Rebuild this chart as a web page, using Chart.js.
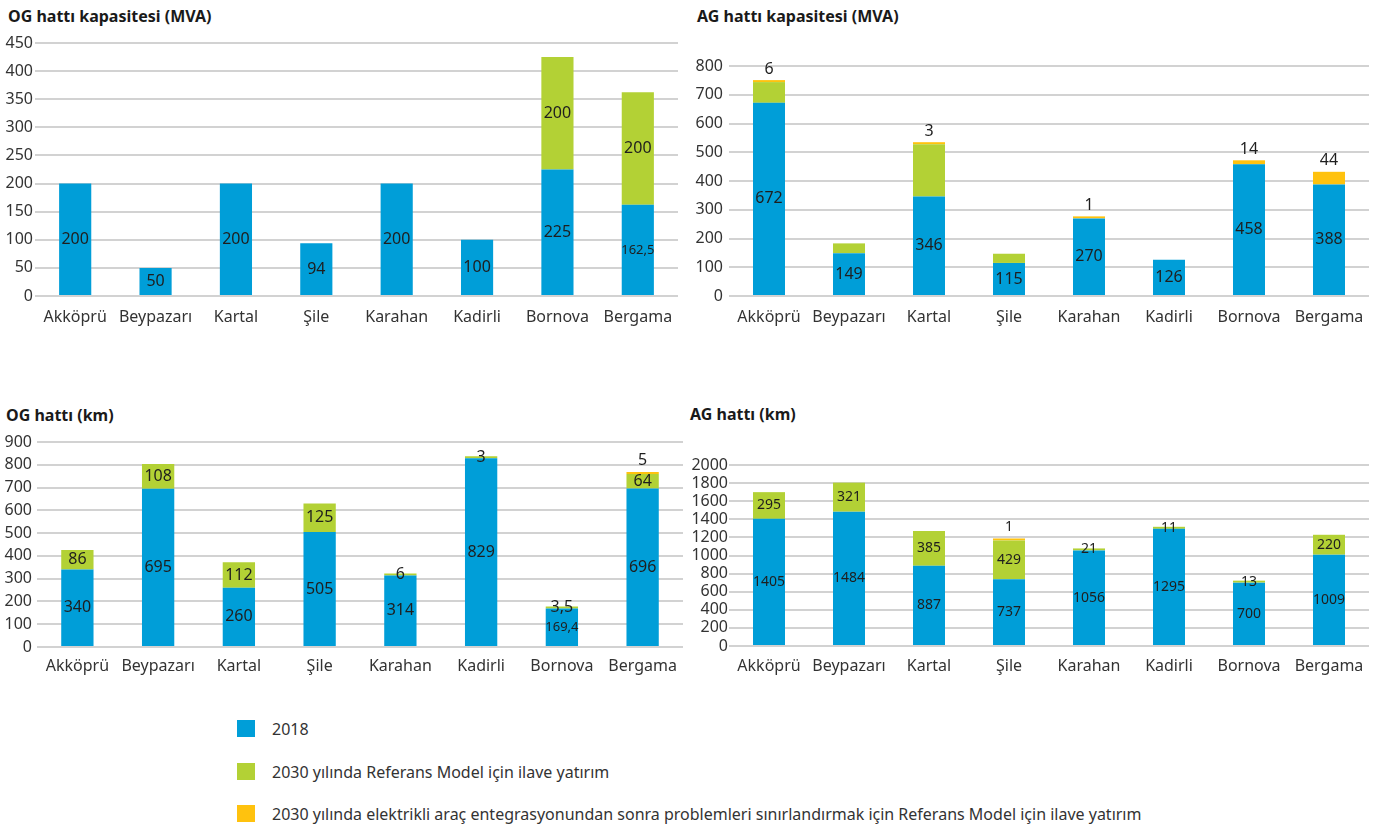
<!DOCTYPE html>
<html><head><meta charset="utf-8">
<script src="https://cdn.jsdelivr.net/npm/chart.js@4/dist/chart.umd.min.js"></script>
<style>
body{margin:0;background:#fff;width:1381px;height:829px;position:relative;overflow:hidden;font-family:"Noto Sans",sans-serif;}
canvas{position:absolute;}
.title{position:absolute;font-weight:bold;font-size:16px;color:#1a1a1a;line-height:20px;white-space:nowrap;}
.sw{position:absolute;left:237px;width:18px;height:17px;}
.lt{position:absolute;left:272px;font-size:16px;color:#333;line-height:20px;white-space:nowrap;}
</style></head>
<body>
<div class="title" style="left:8px;top:6px">OG hattı kapasitesi (MVA)</div>
<div class="title" style="left:697px;top:6px">AG hattı kapasitesi (MVA)</div>
<div class="title" style="left:6px;top:405px">OG hattı (km)</div>
<div class="title" style="left:690px;top:404px">AG hattı (km)</div>
<canvas id="c1" width="685" height="300" style="left:0;top:30px"></canvas>
<canvas id="c2" width="691" height="300" style="left:690px;top:30px"></canvas>
<canvas id="c3" width="690" height="256" style="left:0;top:425px"></canvas>
<canvas id="c4" width="691" height="256" style="left:690px;top:425px"></canvas>
<div id="legend"></div>
<script>
// ---- data ----
const categories = ['Akköprü','Beypazarı','Kartal','Şile','Karahan','Kadirli','Bornova','Bergama'];
const seriesNames = ['2018','2030 yılında Referans Model için ilave yatırım','2030 yılında elektrikli araç entegrasyonundan sonra problemleri sınırlandırmak için Referans Model için ilave yatırım'];
const seriesColors = ['#009ed8','#b3d135','#ffc20e'];

const ogMvaBase = [200,50,200,94,200,100,225,162.5];
const ogMvaRef  = [null,null,null,null,null,null,200,200];
const ogMvaEv   = [null,null,null,null,null,null,null,null];
const ogMvaTicks = {max:450, step:50};

const agMvaBase = [672,149,346,115,270,126,458,388];
const agMvaRef  = [72,34,182,32,null,null,null,null];
const agMvaEv   = [6,null,3,null,1,null,14,44];
const agMvaTicks = {max:800, step:100};

const ogKmBase = [340,695,260,505,314,829,169.4,696];
const ogKmRef  = [86,108,112,125,6,3,3.5,64];
const ogKmEv   = [null,null,null,null,null,null,null,5];
const ogKmTicks = {max:900, step:100};

const agKmBase = [1405,1484,887,737,1056,1295,700,1009];
const agKmRef  = [295,321,385,429,21,11,13,220];
const agKmEv   = [null,null,null,1,null,null,null,null];
const agKmTicks = {max:2000, step:200};

// ---- legend ----
const legendTops = [720,763,805];
const lg = document.getElementById('legend');
seriesNames.forEach((n,i)=>{
  const s=document.createElement('div');s.className='sw';s.style.top=legendTops[i]+'px';s.style.background=seriesColors[i];lg.appendChild(s);
  const t=document.createElement('div');t.className='lt';t.style.top=(legendTops[i]-1)+'px';t.textContent=n;lg.appendChild(t);
});

// ---- value labels plugin ----
const valueLabels = {
  id:'valueLabels',
  afterDatasetsDraw(chart, args, opts){
    const ctx = chart.ctx;
    ctx.save();
    ctx.textAlign='center'; ctx.textBaseline='middle'; ctx.fillStyle='#1e1e1e';
    chart.data.datasets.forEach((ds,i)=>{
      if (!opts.show[i]) return;
      const meta = chart.getDatasetMeta(i);
      meta.data.forEach((el,j)=>{
        const v = ds.data[j];
        if (v == null) return;
        const txt = String(v).replace('.', ',');
        const size = txt.length >= 5 ? opts.small : opts.size;
        ctx.font = size + 'px "Noto Sans"';
        const y = i === 2 ? Math.min(el.y, el.base) - 11 : (el.y + el.base) / 2;
        ctx.fillText(txt, el.x, y);
      });
    });
    ctx.restore();
  }
};

function makeChart(id, base, ref, ev, ticks, L, show, size, small){
  new Chart(document.getElementById(id), {
    type:'bar',
    data:{labels:categories, datasets:[
      {label:seriesNames[0], data:base, backgroundColor:seriesColors[0]},
      {label:seriesNames[1], data:ref, backgroundColor:seriesColors[1], minBarLength:2},
      {label:seriesNames[2], data:ev, backgroundColor:seriesColors[2], minBarLength:2}
    ]},
    options:{
      responsive:false, animation:false, devicePixelRatio:1,
      layout:{padding:{top:L.top, right:L.right, left:0, bottom:0}},
      datasets:{bar:{categoryPercentage:1, barPercentage:0.4}},
      plugins:{legend:{display:false}, tooltip:{enabled:false},
        valueLabels:{show:show, size:size, small:small}},
      scales:{
        x:{stacked:true, grid:{display:false}, border:{display:false},
           ticks:{padding:L.xpad, color:'#333', font:{family:'Noto Sans', size:16}, maxRotation:0, autoSkip:false},
           afterFit(s){ s.height = L.xh; }},
        y:{stacked:true, min:0, max:ticks.max, border:{display:false},
           grid:{color:'#d2d2d2', lineWidth:2, drawTicks:false},
           ticks:{stepSize:ticks.step, autoSkip:false, padding:L.ypad, color:'#333', font:{family:'Noto Sans', size:16},
                  callback:(v)=>String(v)},
           afterFit(s){ s.width = L.yw; }}
      }
    },
    plugins:[valueLabels]
  });
}

makeChart('c1', ogMvaBase, ogMvaRef, ogMvaEv, ogMvaTicks, {top:13,right:7,xh:34,yw:35,xpad:4,ypad:2}, [true,true,true], 16, 13);
makeChart('c2', agMvaBase, agMvaRef, agMvaEv, agMvaTicks, {top:36,right:12,xh:34,yw:39,xpad:4,ypad:6}, [true,false,true], 16, 13);
makeChart('c3', ogKmBase, ogKmRef, ogKmEv, ogKmTicks, {top:17,right:7,xh:34,yw:37,xpad:2,ypad:5}, [true,true,true], 16, 13);
makeChart('c4', agKmBase, agKmRef, agKmEv, agKmTicks, {top:40,right:12,xh:35,yw:39,xpad:3,ypad:1}, [true,true,true], 14, 14);
</script>
</body></html>
